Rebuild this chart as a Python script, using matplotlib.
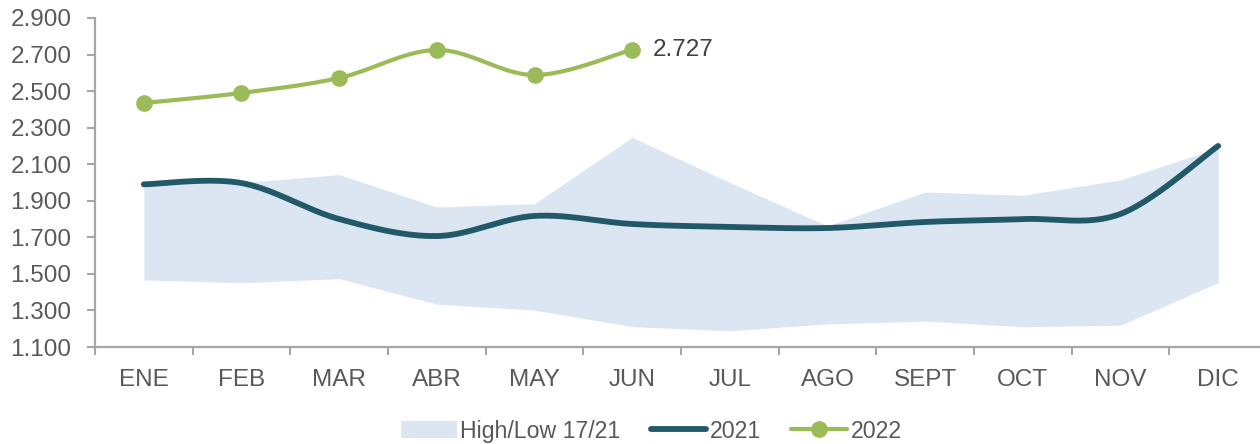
import numpy as np
import matplotlib
matplotlib.use("Agg")
import matplotlib.pyplot as plt
from matplotlib.patches import Patch
from matplotlib.lines import Line2D
from matplotlib.ticker import FuncFormatter, FixedLocator

plt.rcParams['font.family'] = ['Liberation Sans', 'DejaVu Sans']

months = ["ENE", "FEB", "MAR", "ABR", "MAY", "JUN", "JUL", "AGO", "SEPT", "OCT", "NOV", "DIC"]
high_1721 = [1992, 1999, 2043, 1866, 1884, 2247, 2000, 1762, 1948, 1930, 2014, 2190]
low_1721 = [1467, 1452, 1474, 1334, 1302, 1211, 1189, 1226, 1242, 1211, 1219, 1452]
y2021 = [1990, 1997, 1800, 1707, 1817, 1773, 1757, 1751, 1784, 1800, 1828, 2200]
y2022 = [2435, 2490, 2572, 2725, 2588, 2727]
label_2022 = "2.727"

C_BAND = "#DCE6F2"
C_2021 = "#215968"
C_2022 = "#9BBB59"
C_TEXT = "#595959"
C_AXIS = "#A6A6A6"


def smooth(xs, ys, n=40):
    xs = np.asarray(xs, float)
    ys = np.asarray(ys, float)
    P = np.column_stack([xs, ys])
    out = []
    for i in range(len(P) - 1):
        p0 = P[i - 1] if i > 0 else P[i]
        p1 = P[i]
        p2 = P[i + 1]
        p3 = P[i + 2] if i + 2 < len(P) else P[i + 1]
        c1 = p1 + (p2 - p0) / 6.0
        c2 = p2 - (p3 - p1) / 6.0
        t = np.linspace(0, 1, n)[:, None]
        seg = ((1 - t) ** 3) * p1 + 3 * ((1 - t) ** 2) * t * c1 + 3 * (1 - t) * t ** 2 * c2 + t ** 3 * p2
        if i > 0:
            seg = seg[1:]
        out.append(seg)
    out = np.vstack(out)
    return out[:, 0], out[:, 1]


fig = plt.figure(figsize=(12.6, 4.44), dpi=100)
ax = fig.add_axes([95 / 1260, 1 - 347 / 444, (1267 - 95) / 1260, (347 - 18) / 444])

x = np.arange(len(months))
ax.fill_between(x, low_1721, high_1721, color=C_BAND, linewidth=0, zorder=1)

sx, sy = smooth(x, y2021)
ax.plot(sx, sy, color=C_2021, lw=4.2, solid_capstyle='round', zorder=3)

x22 = np.arange(len(y2022))
sx, sy = smooth(x22, y2022)
ax.plot(sx, sy, color=C_2022, lw=3.0, solid_capstyle='round', zorder=4)
ax.plot(x22, y2022, 'o', color=C_2022, ms=11, zorder=5)
ax.annotate(label_2022, (x22[-1], y2022[-1]), xytext=(15, 0), textcoords='offset points',
            ha='left', va='center', fontsize=17.5, color="#404040")

ax.set_xlim(-0.5, len(months) - 0.5)
ax.set_ylim(1100, 2900)
ax.set_yticks(np.arange(1100, 2901, 200))
ax.yaxis.set_major_formatter(FuncFormatter(lambda v, p: f"{int(v):,}".replace(",", ".")))
ax.set_xticks(x)
ax.set_xticklabels(months)
ax.xaxis.set_minor_locator(FixedLocator(np.arange(-0.5, len(months), 1.0)))
ax.tick_params(axis='x', which='major', length=0, pad=16, labelsize=17.5, labelcolor=C_TEXT)
ax.tick_params(axis='x', which='minor', length=6, width=1.5, color=C_AXIS)
ax.tick_params(axis='y', length=6, width=1.5, color=C_AXIS, labelsize=17.5, labelcolor=C_TEXT, pad=11)

for s in ['top', 'right']:
    ax.spines[s].set_visible(False)
for s in ['left', 'bottom']:
    ax.spines[s].set_color(C_AXIS)
    ax.spines[s].set_linewidth(1.6)

handles = [
    Patch(facecolor=C_BAND, edgecolor='none'),
    Line2D([], [], color=C_2021, lw=4.2, solid_capstyle='round'),
    Line2D([], [], color=C_2022, lw=3.0, marker='o', ms=11, solid_capstyle='round'),
]
fig.legend(handles, ["High/Low 17/21", "2021", "2022"], loc='center', bbox_to_anchor=(0.517, 0.029),
           ncol=3, frameon=False, fontsize=16.7, labelcolor=C_TEXT, handlelength=2.4,
           handletextpad=0.15, columnspacing=1.3, handleheight=0.8)

fig.savefig("out.png", dpi=100)
